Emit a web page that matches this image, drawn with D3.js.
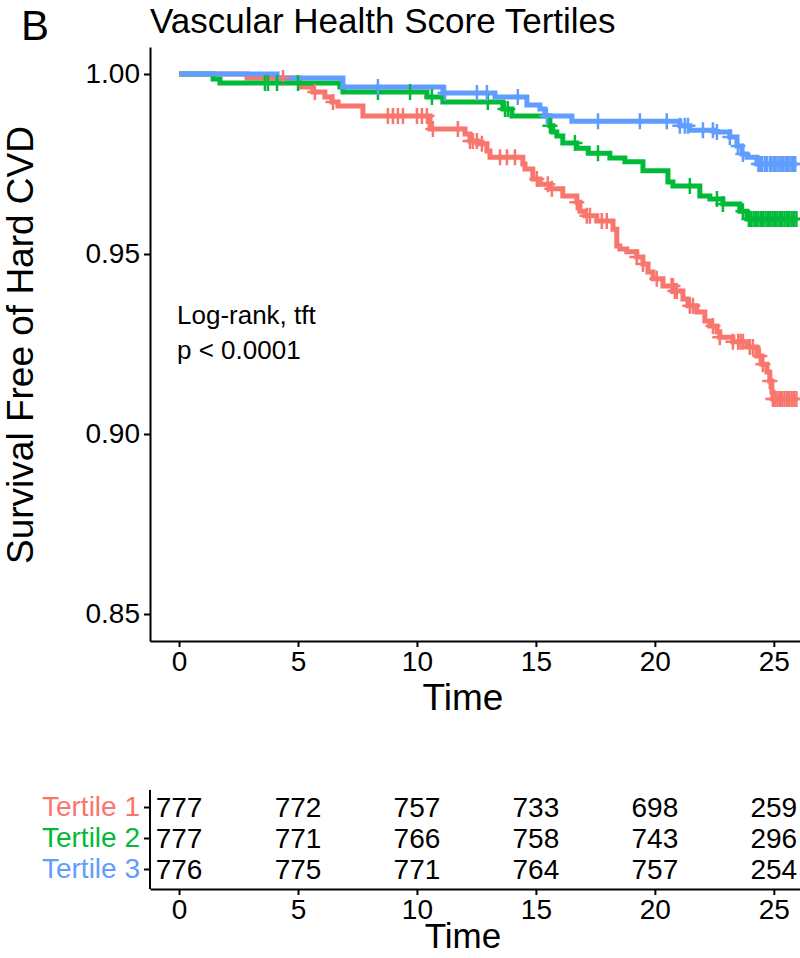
<!DOCTYPE html>
<html><head><meta charset="utf-8">
<script src="https://cdn.jsdelivr.net/npm/d3@7/dist/d3.min.js"></script>
<style>body{margin:0;background:#fff}svg{display:block;font-family:Arial,"Liberation Sans",sans-serif}</style>
</head><body><svg id="c" width="800" height="958"></svg>
<script>
const groups = ["Tertile 1","Tertile 2","Tertile 3"];
const colors = ["#F8766D","#00BA38","#619CFF"];
const xTicks = [0,5,10,15,20,25];
const yTicks = [0.85,0.90,0.95,1.00];
const yTickLabels = ["0.85","0.90","0.95","1.00"];

// step curves: time of event and survival after it
const t1Time = [0,2.86,5.08,5.63,6.13,6.43,6.68,7.73,10.55,12.02,12.23,12.56,12.94,13.07,14.45,14.54,14.87,15.17,15.59,16.13,16.72,16.85,17.06,17.56,18.24,18.40,18.53,18.82,19.24,19.50,19.71,19.92,20.34,20.84,21.18,21.39,21.76,22.10,22.31,22.61,22.73,23.28,23.87,24.29,24.50,24.71,24.83,24.92,24.96,25.95];
const t1Surv = [1,0.9989,0.9964,0.9950,0.9936,0.9922,0.9911,0.9883,0.9847,0.9833,0.9814,0.9806,0.9786,0.9769,0.9750,0.9736,0.9708,0.9694,0.9681,0.9661,0.9644,0.9619,0.9606,0.9592,0.9569,0.9522,0.9514,0.9506,0.9492,0.9472,0.9450,0.9431,0.9411,0.9397,0.9375,0.9356,0.9339,0.9314,0.9300,0.9283,0.9269,0.9256,0.9242,0.9217,0.9194,0.9172,0.9147,0.9117,0.9097,0.9097];
const t2Time = [0,1.43,1.72,6.76,6.89,10.42,11.09,13.61,13.99,15.59,15.71,15.88,16.13,16.72,17.20,18.11,18.74,19.50,20.55,20.76,21.89,22.31,22.86,23.57,23.87,25.95];
const t2Surv = [1,0.9986,0.9975,0.9964,0.9950,0.9936,0.9922,0.9903,0.9883,0.9856,0.9839,0.9828,0.9808,0.9794,0.9780,0.9767,0.9756,0.9731,0.9700,0.9689,0.9661,0.9653,0.9639,0.9619,0.9597,0.9597];
const t3Time = [0,4.12,6.89,11.09,13.28,14.62,15.17,15.38,16.51,21.05,21.47,22.52,23.15,23.45,23.66,23.87,24.29,25.95];
const t3Surv = [1,0.9989,0.9964,0.9947,0.9936,0.9914,0.9903,0.9883,0.9869,0.9856,0.9844,0.9839,0.9825,0.9800,0.9778,0.9769,0.9750,0.9750];

// censoring times
const t1Censor = [4.37,5.71,6.47,8.78,8.99,9.20,9.41,10.0,10.21,10.42,10.67,11.72,12.23,12.35,12.52,12.73,13.49,13.78,14.12,15.04,15.50,15.67,16.72,17.14,17.27,17.77,17.98,19.24,19.50,20.08,20.70,20.76,20.84,20.92,21.47,21.60,22.44,22.73,23.28,23.5,23.6,23.7,23.99,24.12,24.41,24.54,24.83,24.96,25.05,25.15,25.25,25.35,25.45,25.55,25.65,25.75,25.85,25.95];
const t2Censor = [3.61,3.74,4.12,5.00,8.36,9.71,10.63,12.98,13.70,13.82,15.59,16.64,17.61,21.47,22.61,22.86,23.70,23.95,24.05,24.15,24.25,24.35,24.45,24.55,24.65,24.75,24.85,24.95,25.05,25.15,25.25,25.35,25.45,25.55,25.65,25.75,25.85,25.95];
const t3Censor = [8.36,11.18,12.52,12.94,14.24,15.46,17.61,19.37,20.50,21.05,21.26,21.39,22.02,22.44,22.61,23.15,23.49,23.70,24.35,24.41,24.5,24.62,24.7,24.83,24.9,25.0,25.1,25.2,25.3,25.4,25.5,25.6,25.7,25.8,25.9];

// number at risk
const riskTimes = [0,5,10,15,20,25];
const risk1 = [777,772,757,733,698,259];
const risk2 = [777,771,766,758,743,296];
const risk3 = [776,775,771,764,757,254];

const series = [
  {name:groups[0], color:colors[0], time:t1Time, surv:t1Surv, censor:t1Censor, risk:risk1},
  {name:groups[1], color:colors[1], time:t2Time, surv:t2Surv, censor:t2Censor, risk:risk2},
  {name:groups[2], color:colors[2], time:t3Time, surv:t3Surv, censor:t3Censor, risk:risk3}
];

const FF = "Arial, 'Liberation Sans', sans-serif";
const svg = d3.select("#c");
const x = d3.scaleLinear().domain([-1.22, 26.1]).range([150, 800]);
const y = d3.scaleLinear().domain([0.8425, 1.0075]).range([641, 47]);

// title
svg.append("text").attr("x",21).attr("y",40).attr("font-size",42).text("B");
svg.append("text").attr("x",150).attr("y",33).attr("font-size",35).text("Vascular Health Score Tertiles");

// axes
const xAxis = svg.append("g").attr("transform","translate(0,641)")
  .call(d3.axisBottom(x).tickValues(xTicks).tickSize(6).tickSizeOuter(0).tickFormat(d3.format("d")));
const yAxis = svg.append("g").attr("transform","translate(150,0)")
  .call(d3.axisLeft(y).tickValues(yTicks).tickSize(6).tickSizeOuter(0).tickFormat((d,i)=>yTickLabels[i]));
[xAxis,yAxis].forEach(g=>{
  g.select(".domain").attr("stroke","#000").attr("stroke-width",2);
  g.selectAll(".tick line").attr("stroke","#000").attr("stroke-width",2);
  g.selectAll(".tick text").attr("font-size",28).attr("fill","#000").attr("font-family",FF);
});
xAxis.selectAll(".tick text").attr("dy","0.71em").attr("y",10);
yAxis.selectAll(".tick text").attr("x",-10);

svg.append("text").attr("x",463).attr("y",710).attr("text-anchor","middle").attr("font-size",37).text("Time");
svg.append("text").attr("transform","translate(33,345) rotate(-90)").attr("text-anchor","middle").attr("font-size",37).text("Survival Free of Hard CVD");

// curves
const line = d3.line().x(d=>x(d[0])).y(d=>y(d[1])).curve(d3.curveStepAfter);
series.forEach(s=>{
  const pts = s.time.map((t,i)=>[t,s.surv[i]]);
  svg.append("path").datum(pts).attr("d",line).attr("fill","none")
    .attr("stroke",s.color).attr("stroke-width",5);
});
series.forEach(s=>{
  const survAt = t => { let v=1; for(let i=0;i<s.time.length;i++){ if(s.time[i]<=t) v=s.surv[i]; } return v; };
  svg.append("g").selectAll("path").data(s.censor).join("path")
    .attr("d",t=>{const cx=x(t), cy=y(survAt(t)); return `M${cx-7.5},${cy}h15M${cx},${cy-8}v16`;})
    .attr("stroke",s.color).attr("stroke-width",2.5).attr("fill","none");
});

// annotation
svg.append("text").attr("x",177).attr("y",324).attr("font-size",26).text("Log-rank, tft");
svg.append("text").attr("x",177).attr("y",359).attr("font-size",26).text("p < 0.0001");

// risk table
const ry = d3.scalePoint().domain(groups).range([807, 869]);
const rxAxis = svg.append("g").attr("transform","translate(0,889)")
  .call(d3.axisBottom(x).tickValues(xTicks).tickSize(6).tickSizeOuter(0).tickFormat(d3.format("d")));
const ryScale = d3.scaleLinear().domain([0,1]).range([889,790]);
svg.append("line").attr("x1",150).attr("x2",150).attr("y1",ryScale(0)).attr("y2",ryScale(1)).attr("stroke","#000").attr("stroke-width",2);
const ryAxis = svg.append("g").attr("transform","translate(150,0)")
  .call(d3.axisLeft(ry).tickSize(6).tickSizeOuter(0));
ryAxis.select(".domain").remove();
[rxAxis,ryAxis].forEach(g=>{
  g.select(".domain").attr("stroke","#000").attr("stroke-width",2);
  g.selectAll(".tick line").attr("stroke","#000").attr("stroke-width",2);
  g.selectAll(".tick text").attr("font-size",28).attr("fill","#000").attr("font-family",FF);
});
rxAxis.selectAll(".tick text").attr("dy","0.71em").attr("y",10);
ryAxis.selectAll(".tick text").attr("x",-10).attr("fill",(d,i)=>colors[i]);
series.forEach(s=>{
  svg.append("g").selectAll("text").data(s.risk).join("text")
    .attr("x",(d,i)=>x(riskTimes[i])).attr("y",ry(s.name)).attr("dy","0.35em")
    .attr("text-anchor","middle").attr("font-size",28).text(d=>d);
});
svg.append("text").attr("x",463).attr("y",948).attr("text-anchor","middle").attr("font-size",35).text("Time");
</script></body></html>
